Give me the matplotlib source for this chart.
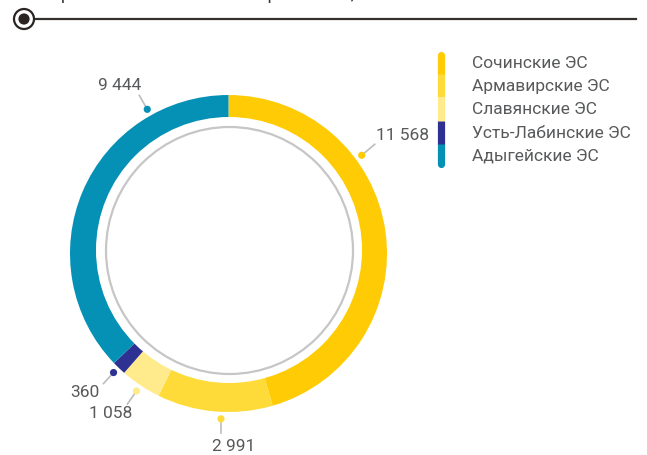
import numpy as np
import matplotlib
matplotlib.use("Agg")
import matplotlib.pyplot as plt
from matplotlib.patches import Circle

plt.rcParams['font.family'] = ['Roboto', 'DejaVu Sans']

# data
branches = ["Сочинские ЭС", "Армавирские ЭС", "Славянские ЭС", "Усть-Лабинские ЭС", "Адыгейские ЭС"]
values = [11568, 2991, 1058, 360, 9444]
value_labels = ["11 568", "2 991", "1 058", "360", "9 444"]
colors = ["#ffcb05", "#fedb38", "#ffeb8c", "#2e3192", "#0591b5"]
title = "Протяженность сетей по филиалам, км"

W, H = 647, 456
TXT = "#58595b"

def py(y):
    # pixel row -> data y (y up)
    return H - y

fig = plt.figure(figsize=(W / 100, H / 100), dpi=100)
ax = fig.add_axes([0, 0, 1, 1])

# ring
cx, cy = 228.5, 254.5
ax.pie(values, colors=colors, startangle=90, counterclock=False,
       radius=158.5, center=(cx, py(cy)), wedgeprops=dict(linewidth=0))
ax.add_patch(Circle((229, py(251)), 133, fc="white", ec="none", zorder=3))
ax.add_patch(Circle((229.5, py(251.5)), 123.5, fc="none", ec="#c6c6c6", lw=1.6, zorder=4))

# value labels: dot angle, leader vector (px), text position (px)
label_angles = [36.4, 267.4, 236.2, 226.0, 119.4]
leaders = [(13, -11), (0, 14), (-9, 13), (-10, 11), (-8, -14)]
text_pos = [(376, 135, "left"), (234, 447, "center"), (111, 414, "center"),
            (85, 393, "center"), (120, 85, "center")]
for i in range(len(values)):
    a = np.radians(label_angles[i])
    dx_ = cx + 165.5 * np.cos(a)
    dy_ = cy - 165.5 * np.sin(a)
    lx, ly = leaders[i]
    ax.plot([dx_, dx_ + lx], [py(dy_), py(dy_ + ly)], color="#bdbdbd", lw=1.2, zorder=5)
    ax.add_patch(Circle((dx_, py(dy_)), 3.6, fc=colors[i], ec="none", zorder=6))
    tx, ty, ha = text_pos[i]
    ax.text(tx, py(ty), value_labels[i], ha=ha, va="center", fontsize=12.5, color=TXT, zorder=7)

# legend
bx, top, step = 440.5, 52, 23.2
order = [4, 0, 1, 2, 3]
for i in order:
    y0, y1 = top + i * step, top + (i + 1) * step
    cap = "butt"
    if i == 0:
        y0 += 3.5
        cap = "round"
    if i == len(branches) - 1:
        y1 -= 3.5
        cap = "round"
    ax.plot([bx, bx], [py(y0), py(y1)], color=colors[i], lw=5.2, solid_capstyle=cap, zorder=5)
    ax.text(472, py(top + (i + 0.5) * step), branches[i], ha="left", va="center",
            fontsize=12.5, color=TXT)

# header line with marker (title is cut by the top edge, as in the source)
ax.plot([34, 636], [py(19.5), py(19.5)], color="#35302d", lw=1.6, zorder=5)
ax.add_patch(Circle((24, py(20)), 10, fc="white", ec="#2a2522", lw=1.6, zorder=6))
ax.add_patch(Circle((24, py(20)), 5.6, fc="#2a2522", ec="none", zorder=7))
ax.text(48, py(-1.5), title, ha="left", va="baseline", fontsize=13, color="#3a3532")

ax.set_xlim(0, W)
ax.set_ylim(0, H)
ax.set_aspect("auto")
ax.axis("off")

fig.savefig("out.png", dpi=100)
